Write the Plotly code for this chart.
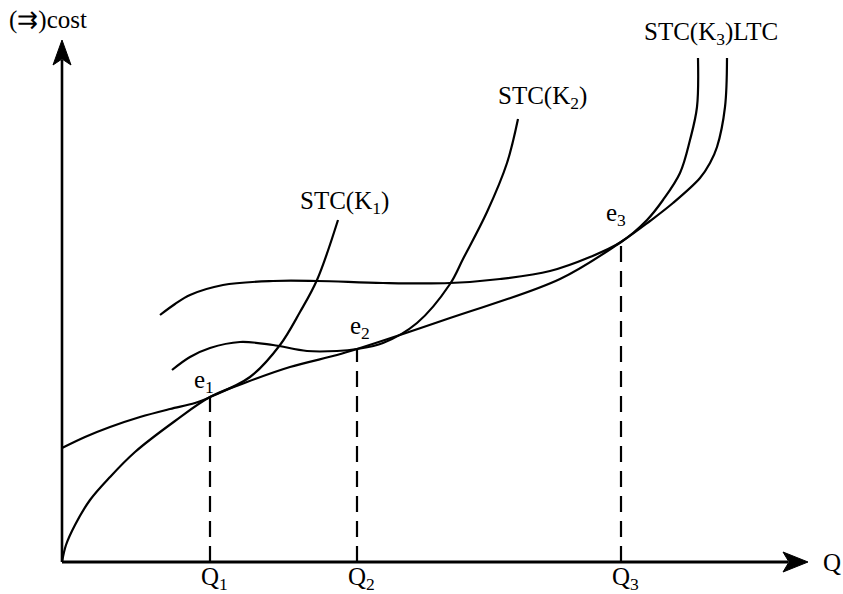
import plotly.graph_objects as go

# Data units: Q along the horizontal axis, cost along the vertical axis
ltc_q = [0, 4, 13, 28, 48, 73, 113, 148, 185, 228, 275, 295, 388, 498, 559, 588, 611, 638, 648, 655, 663, 665]
ltc_c = [0, 17, 37, 62, 85, 110, 141, 165, 180, 195, 207, 213, 244, 283, 320, 341, 359, 384, 399, 415, 455, 504]

stc1_q = [0, 23, 48, 78, 108, 133, 148, 188, 218, 238, 255, 276]
stc1_c = [114, 125, 135, 145, 153, 159, 165, 185, 217, 250, 282, 342]

stc2_q = [110, 128, 148, 178, 211, 245, 275, 295, 321, 355, 388, 401, 425, 445, 456]
stc2_c = [192, 205, 214, 220, 217, 211, 211, 213, 219, 239, 278, 303, 350, 399, 443]

stc3_q = [98, 113, 128, 161, 211, 255, 321, 388, 438, 488, 528, 559, 585, 601, 618, 628, 635, 636]
stc3_c = [247, 258, 267, 277, 281, 281, 279, 279, 283, 291, 305, 320, 342, 362, 389, 422, 455, 504]

tang_q = [148, 295, 559]          # Q1, Q2, Q3
tang_c = [165, 213, 320]          # e1, e2, e3
q_labels = ["Q<sub>1</sub>", "Q<sub>2</sub>", "Q<sub>3</sub>"]
e_labels = ["e<sub>1</sub>", "e<sub>2</sub>", "e<sub>3</sub>"]

curve_labels = ["STC(K<sub>1</sub>)", "STC(K<sub>2</sub>)", "STC(K<sub>3</sub>)LTC"]
curve_label_pos = [(282, 360), (480, 465), (649, 529)]

x_max = 746
y_max = 522

FONT = "Liberation Serif"
FS = 25

fig = go.Figure()
line_style = dict(color="black", width=2.2, shape="spline", smoothing=1.0)
for q, c in [(ltc_q, ltc_c), (stc1_q, stc1_c), (stc2_q, stc2_c), (stc3_q, stc3_c)]:
    fig.add_trace(go.Scatter(x=q, y=c, mode="lines", line=line_style,
                             hoverinfo="skip", showlegend=False))

# dashed drop lines
for q, c in zip(tang_q, tang_c):
    fig.add_trace(go.Scatter(x=[q, q], y=[0, c], mode="lines",
                             line=dict(color="black", width=2.2, dash="16px,9px"),
                             hoverinfo="skip", showlegend=False))

shapes = []
# axes
shapes.append(dict(type="line", x0=0, y0=0, x1=x_max - 20, y1=0, xref="x", yref="y",
                   line=dict(color="black", width=2.8)))
shapes.append(dict(type="line", x0=0, y0=0, x1=0, y1=y_max - 20, xref="x", yref="y",
                   line=dict(color="black", width=2.6)))
# arrowheads
shapes.append(dict(type="path", xref="x", yref="y",
                   path=f"M {x_max},0 L {x_max-25},10 L {x_max-19},0 L {x_max-25},-10 Z",
                   fillcolor="black", line=dict(color="black", width=1)))
shapes.append(dict(type="path", xref="x", yref="y",
                   path=f"M 0,{y_max} L -9,{y_max-25} L 0,{y_max-19} L 9,{y_max-25} Z",
                   fillcolor="black", line=dict(color="black", width=1)))
# tick marks
for q in tang_q:
    shapes.append(dict(type="line", x0=q, y0=0, x1=q, y1=5, xref="x", yref="y",
                       line=dict(color="black", width=2)))

annotations = []
font = dict(family=FONT, size=FS, color="black")
for q, t in zip(tang_q, q_labels):
    annotations.append(dict(x=q + 4, y=-16, text=t, showarrow=False, font=font,
                            xref="x", yref="y", xanchor="center", yanchor="middle"))
e_off = [(-6, 16), (3, 22), (-5, 28)]
for q, c, t, (dx, dy) in zip(tang_q, tang_c, e_labels, e_off):
    annotations.append(dict(x=q + dx, y=c + dy, text=t, showarrow=False, font=font,
                            xref="x", yref="y", xanchor="center", yanchor="middle"))
for (q, c), t in zip(curve_label_pos, curve_labels):
    annotations.append(dict(x=q, y=c, text=t, showarrow=False, font=font,
                            xref="x", yref="y", xanchor="center", yanchor="middle"))
annotations.append(dict(x=x_max + 24, y=0, text="Q", showarrow=False, font=font,
                        xref="x", yref="y", xanchor="center", yanchor="middle"))
annotations.append(dict(x=-55, y=542, text="(⇉)cost", showarrow=False, font=font,
                        xref="x", yref="y", xanchor="left", yanchor="middle"))

fig.update_layout(
    width=843, height=594,
    margin=dict(l=0, r=0, t=0, b=0),
    paper_bgcolor="white", plot_bgcolor="white",
    xaxis=dict(range=[-62, 781], visible=False, fixedrange=True),
    yaxis=dict(range=[-32, 562], visible=False, fixedrange=True),
    shapes=shapes, annotations=annotations,
    showlegend=False,
)
fig.write_html("out.html", config={"displayModeBar": False},
               post_script="document.body.style.margin='0';document.body.style.padding='0';document.body.style.overflow='hidden';")
